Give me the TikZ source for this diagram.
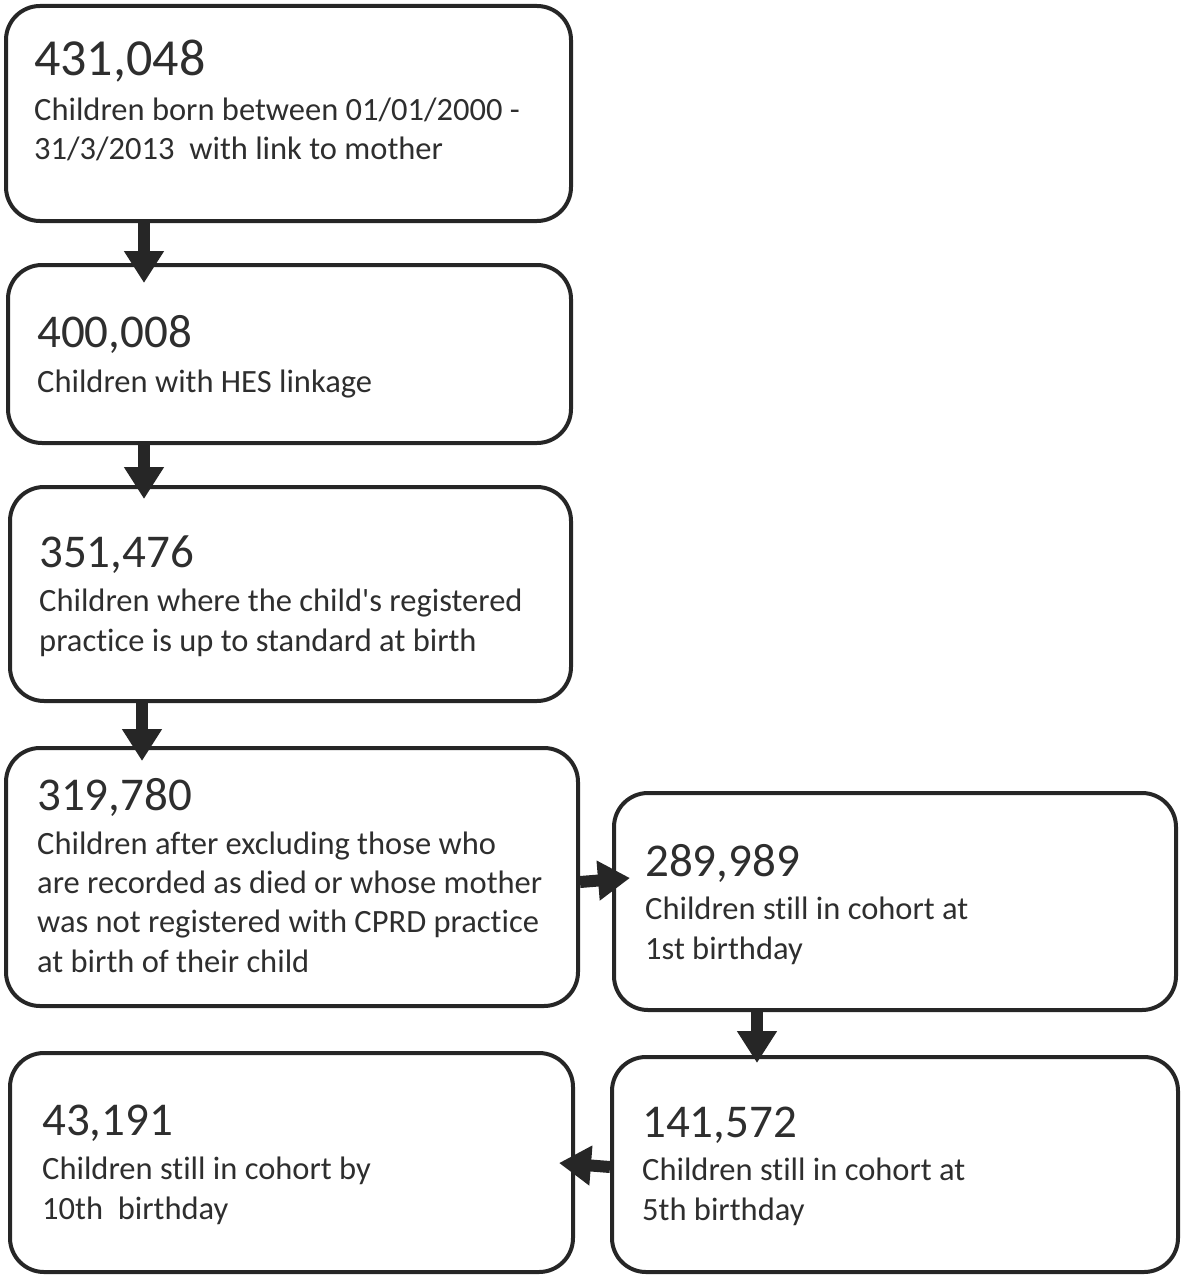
\documentclass[tikz,border=0pt]{standalone}
\usepackage{fontspec}
\setmainfont{Carlito}[Ligatures={NoCommon}]
\usetikzlibrary{arrows.meta}
\definecolor{ln}{HTML}{262626}
\definecolor{tx}{HTML}{2E2E2E}
\tikzset{
  box/.style={draw=ln, line width=4pt, rounded corners=34pt, anchor=north west, inner sep=0pt},
  num/.style={anchor=base west, inner sep=0pt, text=tx, font=\fontsize{47}{56}\selectfont},
  desc/.style={anchor=base west, inner sep=0pt, text=tx, align=left, font=\fontsize{32.5}{39.3}\selectfont},
  blk/.style={draw=ln, line width=12pt, -{Triangle[length=32pt,width=38pt]}, color=ln},
}
\begin{document}
\begin{tikzpicture}[x=1pt,y=-1pt]
\useasboundingbox (0,0) rectangle (1181,1276);
% boxes
\node[box, minimum width=565pt, minimum height=215pt] (b1) at (4,4) {};
\node[box, minimum width=563pt, minimum height=178pt] (b2) at (6,263) {};
\node[box, minimum width=561pt, minimum height=214pt] (b3) at (8,485) {};
\node[box, minimum width=572pt, minimum height=258pt] (b4) at (4,746) {};
\node[box, minimum width=562pt, minimum height=217pt] (b5) at (612,791) {};
\node[box, minimum width=566pt, minimum height=215pt] (b6) at (610,1055) {};
\node[box, minimum width=563pt, minimum height=219pt] (b7) at (8,1051) {};
% texts (multi-line nodes are anchored at the baseline of their last line)
\node[num, font=\fontsize{52}{56}\selectfont] (n1) at (34,76) {431,048};
\node[desc] (t1) at (34,160) {Children born between 01/01/2000 -\\31/3/2013\ \ with link to mother};
\node[num] (n2) at (37,347) {400,008};
\node[desc] (t2) at (37,392) {Children with HES linkage};
\node[num] (n3) at (39,567) {351,476};
\node[desc] (t3) at (39,651) {Children where the child\textquotesingle s registered\\practice is up to standard at birth};
\node[num] (n4) at (37,810) {319,780};
\node[desc] (t4) at (37,972) {Children after excluding those who\\are recorded as died or whose mother\\was not registered with CPRD practice\\at birth of their child};
\node[num] (n5) at (645,876) {289,989};
\node[desc] (t5) at (645,959) {Children still in cohort at\\1st birthday};
\node[num] (n6) at (642,1137) {141,572};
\node[desc] (t6) at (642,1220) {Children still in cohort at\\5th birthday};
\node[num] (n7) at (42,1135) {43,191};
\node[desc] (t7) at (42,1219) {Children still in cohort by\\10th\ \ birthday};
% arrows
\draw[blk] ([xshift=140pt]b1.south west) -- ([xshift=138pt,yshift=-20pt]b2.north west);
\draw[blk] ([xshift=138pt]b2.south west) -- ([xshift=136pt,yshift=-14pt]b3.north west);
\draw[blk] ([xshift=134pt]b3.south west) -- ([xshift=138pt,yshift=-15pt]b4.north west);
\draw[blk] ([yshift=126pt]b4.south east) -- ([xshift=18pt,yshift=-87pt]b5.north west);
\draw[blk] ([xshift=145pt]b5.south west) -- ([xshift=147pt,yshift=-8pt]b6.north west);
\draw[blk] ([yshift=107pt]b6.south west) -- ([xshift=-16pt,yshift=-112pt]b7.north east);
\end{tikzpicture}
\end{document}
